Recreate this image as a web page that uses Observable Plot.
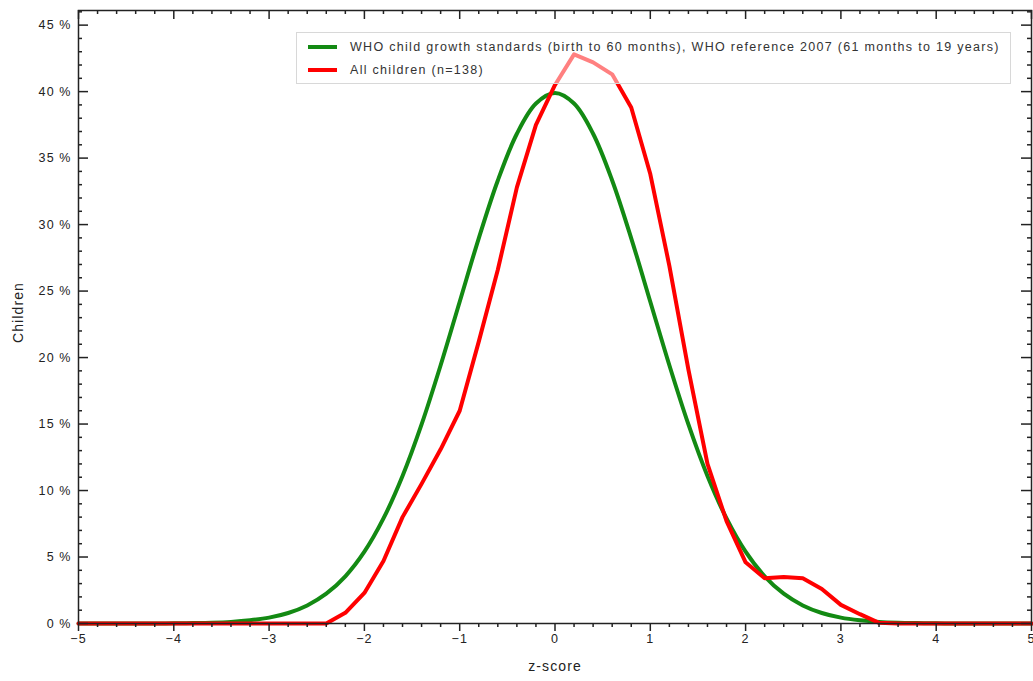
<!DOCTYPE html>
<html>
<head>
<meta charset="utf-8">
<script src="https://cdn.jsdelivr.net/npm/d3@7"></script>
<script src="https://cdn.jsdelivr.net/npm/@observablehq/plot@0.6"></script>
<style>
  html, body { margin: 0; padding: 0; background: #fff; }
  body { width: 1033px; height: 681px; position: relative; overflow: hidden; font-family: "Liberation Sans", Arial, sans-serif; }
  #chart { position: absolute; left: 0; top: 0; }
  #chart svg text { letter-spacing: 1.1px; }
  #legend { position: absolute; left: 296px; top: 32px; width: 713px; height: 50px; border: 1px solid #d8d8d8; background: rgba(255,255,255,0.5); font-size: 12.5px; letter-spacing: 1.3px; color: #333; }
  .item { position: absolute; left: 11px; height: 16px; display: flex; align-items: center; white-space: nowrap; }
  .sw { width: 29px; height: 4px; margin-right: 13px; }
</style>
</head>
<body>
<div id="chart"></div>
<div id="legend"></div>
<script>
// z-score grid (step 0.2)
const zGrid = [-5,-4.8,-4.6,-4.4,-4.2,-4,-3.8,-3.6,-3.4,-3.2,-3,-2.8,-2.6,-2.4,-2.2,-2,-1.8,-1.6,-1.4,-1.2,-1,-0.8,-0.6,-0.4,-0.2,0,0.2,0.4,0.6,0.8,1,1.2,1.4,1.6,1.8,2,2.2,2.4,2.6,2.8,3,3.2,3.4,3.6,3.8,4,4.2,4.4,4.6,4.8,5];
// WHO reference curve (% of children)
const whoValues = [0,0,0,0,0,0.01,0.03,0.06,0.12,0.24,0.44,0.79,1.36,2.24,3.55,5.40,7.90,11.09,14.97,19.42,24.20,28.97,33.32,36.83,39.10,39.89,39.10,36.83,33.32,28.97,24.20,19.42,14.97,11.09,7.90,5.40,3.55,2.24,1.36,0.79,0.44,0.24,0.12,0.06,0.03,0.01,0,0,0,0,0];
// All children (n=138), % of children
const allValues = [0,0,0,0,0,0,0,0,0,0,0,0,0,0,0.8,2.3,4.7,8.0,10.5,13.1,16.0,21.2,26.6,32.8,37.5,40.5,42.8,42.2,41.3,38.8,33.8,26.9,19.1,12.0,7.7,4.6,3.4,3.5,3.4,2.6,1.4,0.7,0.05,0,0,0,0,0,0,0,0];

const seriesNames = ["WHO child growth standards (birth to 60 months), WHO reference 2007 (61 months to 19 years)", "All children (n=138)"];
const seriesColors = ["#138a13", "#ff0000"];

const xMajor = [-5,-4,-3,-2,-1,0,1,2,3,4,5];
const xMinor = [-4.8,-4.6,-4.4,-4.2,-3.8,-3.6,-3.4,-3.2,-2.8,-2.6,-2.4,-2.2,-1.8,-1.6,-1.4,-1.2,-0.8,-0.6,-0.4,-0.2,0.2,0.4,0.6,0.8,1.2,1.4,1.6,1.8,2.2,2.4,2.6,2.8,3.2,3.4,3.6,3.8,4.2,4.4,4.6,4.8];
const yMajor = [0,5,10,15,20,25,30,35,40,45];
const yMinor = [1,2,3,4,6,7,8,9,11,12,13,14,16,17,18,19,21,22,23,24,26,27,28,29,31,32,33,34,36,37,38,39,41,42,43,44,46];

const whoData = zGrid.map((z, i) => ({z, v: whoValues[i]}));
const allData = zGrid.map((z, i) => ({z, v: allValues[i]}));

const W = 1033, H = 681;
const mL = 78, mR = 2, mT = 10, mB = 58;
const pw = W - mL - mR, ph = H - mT - mB;

const plot = Plot.plot({
  width: W, height: H,
  marginLeft: mL, marginRight: mR, marginTop: mT, marginBottom: mB,
  style: {fontFamily: "'Liberation Sans', Arial, sans-serif", fontSize: "12px", color: "#222", background: "#fff"},
  x: {domain: [-5, 5]},
  y: {domain: [0, 46.1]},
  marks: [
    Plot.line(whoData, {x: "z", y: "v", stroke: seriesColors[0], strokeWidth: 4, curve: "catmull-rom"}),
    Plot.line(allData, {x: "z", y: "v", stroke: seriesColors[1], strokeWidth: 4, curve: "linear"}),
    // left ticks (inward)
    Plot.tickY(yMajor, {y: d => d, stroke: "#222", strokeWidth: 1.5, insetRight: pw - 10}),
    Plot.tickY(yMinor, {y: d => d, stroke: "#222", strokeWidth: 1.5, insetRight: pw - 4}),
    // right ticks (inward)
    Plot.tickY(yMajor, {y: d => d, stroke: "#222", strokeWidth: 1.5, insetLeft: pw - 10}),
    Plot.tickY(yMinor, {y: d => d, stroke: "#222", strokeWidth: 1.5, insetLeft: pw - 4}),
    // top ticks (inward)
    Plot.tickX(xMajor, {x: d => d, stroke: "#222", strokeWidth: 1.5, insetBottom: ph - 9}),
    Plot.tickX(xMinor, {x: d => d, stroke: "#222", strokeWidth: 1.5, insetBottom: ph - 4}),
    // bottom axis (outward)
    Plot.axisX(xMajor, {anchor: "bottom", tickSize: 8, tickPadding: 3, strokeWidth: 1.5, stroke: "#222", fill: "#222", fontSize: 12.5, label: null}),
    Plot.axisX(xMinor, {anchor: "bottom", tickSize: 4, text: null, strokeWidth: 1.5, stroke: "#222", label: null}),
    Plot.axisY(yMajor, {anchor: "left", tickSize: 0, tickPadding: 7, tickFormat: d => d + " %", fill: "#222", fontSize: 12.5, label: null}),
    Plot.frame({stroke: "#222", strokeWidth: 1.5}),
    Plot.text(["z-score"], {frameAnchor: "bottom", dy: 47, fontSize: 14, fill: "#222"}),
    Plot.text(["Children"], {frameAnchor: "left", dx: -60, dy: 26, rotate: -90, fontSize: 14, fill: "#222"})
  ]
});
document.getElementById("chart").appendChild(plot);

const legend = document.getElementById("legend");
seriesNames.forEach((name, i) => {
  const item = document.createElement("div");
  item.className = "item";
  item.style.top = (6 + i * 23) + "px";
  const sw = document.createElement("div");
  sw.className = "sw";
  sw.style.background = seriesColors[i];
  const t = document.createElement("span");
  t.textContent = name;
  item.appendChild(sw);
  item.appendChild(t);
  legend.appendChild(item);
});
</script>
</body>
</html>
